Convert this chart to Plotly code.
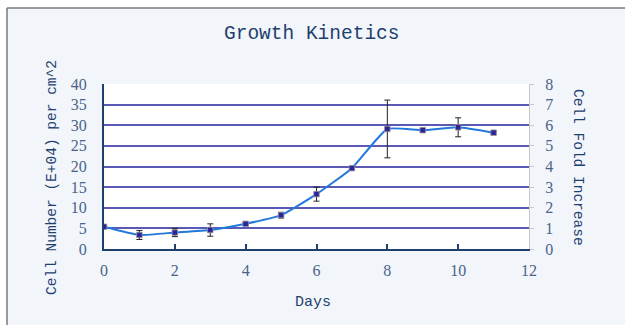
import plotly.graph_objects as go

# Growth kinetics data: cell number (E+04 per cm^2) by day, with SD
days = [0, 1, 2, 3, 4, 5, 6, 7, 8, 9, 10, 11]
cell_number = [5.4, 3.4, 4.0, 4.6, 6.1, 8.2, 13.3, 19.6, 29.1, 28.8, 29.5, 28.2]
cell_sd = [0.3, 1.1, 1.0, 1.5, 0.3, 0.7, 1.7, 0.4, 7.0, 0.4, 2.3, 0.3]

left_ticks = [0, 5, 10, 15, 20, 25, 30, 35, 40]
right_ticks = [0, 1, 2, 3, 4, 5, 6, 7, 8]
x_ticks = [0, 2, 4, 6, 8, 10, 12]

TITLE_FONT = "Liberation Mono"
TICK_FONT = "Liberation Serif"
TITLE_COLOR = "#1f3f6e"
TICK_COLOR = "#4a6389"
FRAME_BG = "#f2f6fb"

# plot area in pixels
W, H = 625, 325
L, R, T, B = 104, 96, 84, 76
pw, ph = W - L - R, H - T - B


def px_x(p):
    return (p - L) / pw


def px_y(p):
    return (H - B - p) / ph


fig = go.Figure()

fig.add_trace(go.Scatter(
    x=days, y=cell_number,
    mode="lines+markers",
    line=dict(color="#2378dc", width=2, shape="spline", smoothing=0.45),
    marker=dict(symbol="square", size=5.5, color="#2c239a",
                line=dict(color="rgba(150,150,150,0.8)", width=1)),
    error_y=dict(type="data", array=cell_sd, visible=True,
                 color="#222222", thickness=1, width=3),
    showlegend=False,
))

# invisible trace to carry the fold-increase axis
fig.add_trace(go.Scatter(x=[0], y=[0], yaxis="y2", mode="markers",
                         marker=dict(opacity=0), showlegend=False,
                         hoverinfo="skip"))

fig.update_layout(
    width=W, height=H,
    margin=dict(l=L, r=R, t=T, b=B, pad=0),
    paper_bgcolor=FRAME_BG,
    plot_bgcolor="white",
    xaxis=dict(
        range=[0, 12], tickvals=x_ticks, ticktext=[str(v) for v in x_ticks],
        showgrid=False, zeroline=False,
        showline=True, linecolor="#1f3f6e", linewidth=2,
        ticks="inside", ticklen=5, tickwidth=1.5, tickcolor="#1f3f6e",
        tickfont=dict(family=TICK_FONT, size=16, color=TICK_COLOR),
        ticklabelstandoff=6,
    ),
    yaxis=dict(
        range=[0, 40], tickvals=left_ticks, ticktext=[str(v) for v in left_ticks],
        showgrid=True, gridcolor="#5a5ab4", gridwidth=1.5,
        zeroline=False, showline=True, linecolor="#1f3f6e", linewidth=2,
        ticks="", tickfont=dict(family=TICK_FONT, size=16, color=TICK_COLOR),
        ticklabelstandoff=12,
    ),
    yaxis2=dict(
        range=[0, 8], tickvals=right_ticks, ticktext=[str(v) for v in right_ticks],
        overlaying="y", side="right", showgrid=False, zeroline=False,
        showline=True, linecolor="#c8c8c8", linewidth=1,
        ticks="outside", ticklen=4, tickcolor="#c8c8c8",
        tickfont=dict(family=TICK_FONT, size=16, color=TICK_COLOR),
        ticklabelstandoff=8,
    ),
)

# white margin and grey border of the chart frame
fig.add_shape(type="rect", xref="paper", yref="paper",
              x0=px_x(-5), x1=px_x(7), y0=px_y(335), y1=px_y(-5),
              fillcolor="white", line=dict(width=0), layer="below")
fig.add_shape(type="rect", xref="paper", yref="paper",
              x0=px_x(-5), x1=px_x(635), y0=px_y(8), y1=px_y(-5),
              fillcolor="white", line=dict(width=0), layer="below")
fig.add_shape(type="line", xref="paper", yref="paper",
              x0=px_x(7), x1=px_x(7), y0=px_y(8), y1=px_y(335),
              line=dict(color="#7a7a7a", width=1.5))
fig.add_shape(type="line", xref="paper", yref="paper",
              x0=px_x(7), x1=px_x(635), y0=px_y(8), y1=px_y(8),
              line=dict(color="#7a7a7a", width=1.5))

# titles
def label(text, cx, cy, size, angle=0):
    fig.add_annotation(text=text, xref="paper", yref="paper",
                       x=px_x(cx), y=px_y(cy), showarrow=False,
                       xanchor="center", yanchor="middle", textangle=angle,
                       font=dict(family=TITLE_FONT, size=size, color=TITLE_COLOR))


label("Growth Kinetics", 312, 34, 19.5)
label("Days", 313, 302, 15)
label("Cell Number (E+04) per cm^2", 52, 178, 14.5, -90)
label("Cell Fold Increase", 578, 167, 14.5, 90)

fig.write_html("out.html")
